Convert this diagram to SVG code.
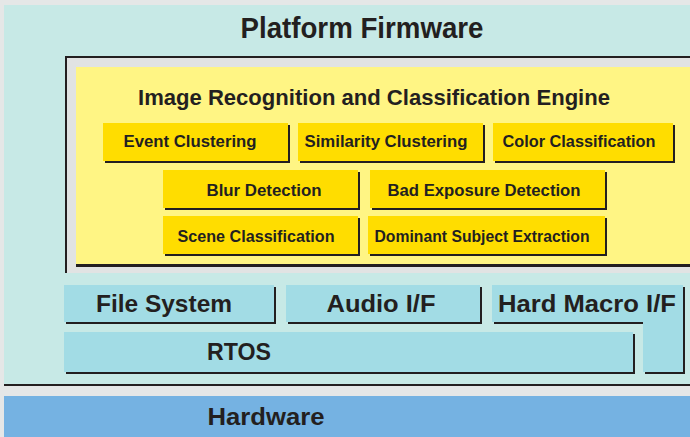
<svg xmlns="http://www.w3.org/2000/svg" width="690" height="437" viewBox="0 0 690 437">
<style>
text{font-family:"Liberation Sans",Arial,sans-serif;font-weight:bold;fill:#231f20;text-anchor:middle}
.sh{fill:#231f20}
.yb{fill:#ffdd00}
.cb{fill:#a2dce5}
.t1{font-size:17px}
.t2{font-size:24px}
</style>
<rect x="0" y="0" width="690" height="437" fill="#e5e7e7"/>
<g id="platform">
<rect x="4" y="6" width="686" height="380" fill="#231f20"/>
<rect x="4" y="5" width="686" height="379" fill="#c7e9e6"/>
<text x="362" y="38" font-size="29" textLength="243" lengthAdjust="spacingAndGlyphs">Platform Firmware</text>
</g>
<g id="engine">
<rect x="65" y="56" width="625" height="217" fill="#231f20"/>
<rect x="67" y="58" width="623" height="215" fill="#e1e3e3"/>
<rect x="76" y="67" width="614" height="200" fill="#231f20"/>
<rect x="76" y="67" width="614" height="197" fill="#fff584"/>
<text x="374" y="105" font-size="22" textLength="472" lengthAdjust="spacingAndGlyphs">Image Recognition and Classification Engine</text>
</g>
<g id="event-clustering">
<rect class="sh" x="105" y="125" width="185" height="38"/>
<rect class="yb" x="103" y="123" width="185" height="38"/>
<text class="t1" x="190" y="147" textLength="133" lengthAdjust="spacingAndGlyphs">Event Clustering</text>
</g>
<g id="similarity-clustering">
<rect class="sh" x="300" y="125" width="185" height="38"/>
<rect class="yb" x="298" y="123" width="185" height="38"/>
<text class="t1" x="386" y="147" textLength="163" lengthAdjust="spacingAndGlyphs">Similarity Clustering</text>
</g>
<g id="color-classification">
<rect class="sh" x="495" y="125" width="180" height="38"/>
<rect class="yb" x="493" y="123" width="180" height="38"/>
<text class="t1" x="579" y="147" textLength="153" lengthAdjust="spacingAndGlyphs">Color Classification</text>
</g>
<g id="blur-detection">
<rect class="sh" x="165" y="172" width="195" height="38"/>
<rect class="yb" x="163" y="170" width="195" height="38"/>
<text class="t1" x="264" y="196" textLength="115" lengthAdjust="spacingAndGlyphs">Blur Detection</text>
</g>
<g id="bad-exposure-detection">
<rect class="sh" x="372" y="172" width="235" height="38"/>
<rect class="yb" x="370" y="170" width="235" height="38"/>
<text class="t1" x="484" y="196" textLength="193" lengthAdjust="spacingAndGlyphs">Bad Exposure Detection</text>
</g>
<g id="scene-classification">
<rect class="sh" x="165" y="218" width="195" height="38"/>
<rect class="yb" x="163" y="216" width="195" height="38"/>
<text class="t1" x="256" y="242" textLength="157" lengthAdjust="spacingAndGlyphs">Scene Classification</text>
</g>
<g id="dominant-subject-extraction">
<rect class="sh" x="370" y="218" width="237" height="38"/>
<rect class="yb" x="368" y="216" width="237" height="38"/>
<text class="t1" x="482" y="242" textLength="215" lengthAdjust="spacingAndGlyphs">Dominant Subject Extraction</text>
</g>
<g id="file-system">
<rect class="sh" x="66" y="287" width="210" height="37"/>
<rect class="cb" x="64" y="285" width="210" height="37"/>
<text class="t2" x="164" y="312" textLength="136" lengthAdjust="spacingAndGlyphs">File System</text>
</g>
<g id="audio-if">
<rect class="sh" x="288" y="287" width="194" height="37"/>
<rect class="cb" x="286" y="285" width="194" height="37"/>
<text class="t2" x="381" y="312" textLength="109" lengthAdjust="spacingAndGlyphs">Audio I/F</text>
</g>
<g id="hard-macro-if">
<path class="sh" d="M494 287H685V374H645V324H494Z"/>
<path class="cb" d="M492 285H683V372H643V322H492Z"/>
<text class="t2" x="587" y="312" textLength="178" lengthAdjust="spacingAndGlyphs">Hard Macro I/F</text>
</g>
<g id="rtos">
<rect class="sh" x="66" y="334" width="569" height="40"/>
<rect class="cb" x="64" y="332" width="569" height="40"/>
<text class="t2" x="239" y="360" textLength="64" lengthAdjust="spacingAndGlyphs">RTOS</text>
</g>
<g id="hardware">
<rect x="4" y="396" width="686" height="41" fill="#75b2e2"/>
<text class="t2" x="266" y="425" textLength="117" lengthAdjust="spacingAndGlyphs">Hardware</text>
</g>
<g id="connectors"/>
</svg>
